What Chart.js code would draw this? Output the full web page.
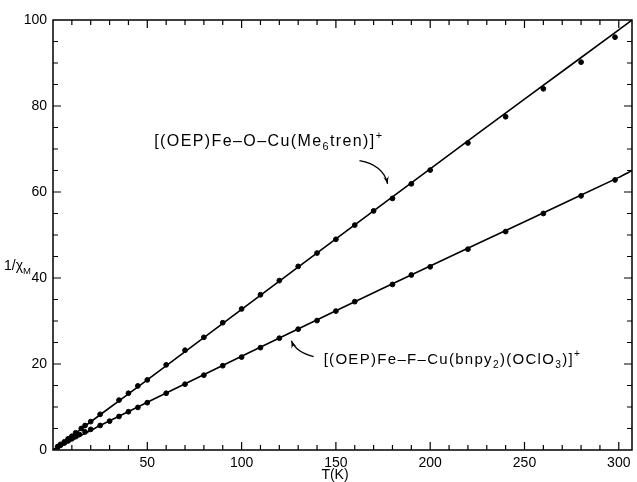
<!DOCTYPE html>
<html lang="en">
<head>
    <meta charset="UTF-8">
    <title>1/chi_M vs T</title>
    <script src="https://cdn.jsdelivr.net/npm/chart.js"></script>
    <style>
        body, html {
            margin: 0;
            padding: 0;
            background: #fff;
            overflow: hidden;
        }
        #wrap { width: 637px; height: 482px; position: relative; }
    </style>
</head>
<body>
    <div id="wrap"><canvas id="chiChart"></canvas></div>

    <script>
        // [(OEP)Fe-O-Cu(Me6tren)]+ : measured points
        const feoT = [2.5, 4, 6, 8, 10, 12, 15, 17, 20, 25, 35, 40, 45, 50, 60, 70, 80, 90, 100, 110, 120, 130, 140, 150, 160, 170, 180, 190, 200, 220, 240, 260, 280, 298];
        const feoV = [0.8, 1.3, 1.9, 2.6, 3.2, 4.0, 5.0, 5.7, 6.6, 8.3, 11.6, 13.2, 14.9, 16.3, 19.8, 23.2, 26.2, 29.6, 32.8, 36.1, 39.4, 42.7, 45.8, 49.0, 52.3, 55.6, 58.5, 61.9, 65.1, 71.4, 77.5, 84.0, 90.2, 96.0];
        // fitted line through them
        const feoFitT = [0, 25, 50, 100, 150, 200, 250, 300, 307];
        const feoFitV = [0, 8.2, 16.3, 32.7, 49.1, 65.4, 81.6, 97.7, 100];

        // [(OEP)Fe-F-Cu(bnpy2)(OClO3)]+
        const fefT = [2.5, 4, 6, 8, 10, 12, 14, 17, 20, 25, 30, 35, 40, 45, 50, 60, 70, 80, 90, 100, 110, 120, 130, 140, 150, 160, 180, 190, 200, 220, 240, 260, 280, 298];
        const fefV = [0.7, 1.1, 1.6, 2.1, 2.6, 3.1, 3.6, 4.2, 4.8, 5.7, 6.7, 7.8, 8.9, 9.9, 11.0, 13.2, 15.3, 17.4, 19.6, 21.6, 23.8, 26.0, 28.1, 30.1, 32.3, 34.5, 38.5, 40.7, 42.6, 46.7, 50.8, 55.0, 59.1, 62.8];
        const fefFitT = [0, 25, 50, 100, 150, 200, 250, 300, 307];
        const fefFitV = [0, 5.7, 11.1, 21.8, 32.4, 42.8, 53.1, 63.4, 65.0];

        const xTickLabels = [50, 100, 150, 200, 250, 300];
        const yTickLabels = [0, 20, 40, 60, 80, 100];

        const pts = (xs, ys) => xs.map((x, i) => ({ x: x, y: ys[i] }));
        const FONT = '"Liberation Sans", Arial, sans-serif';
        const INK = '#000';

        // draw text made of plain / sub / sup pieces
        function drawRich(ctx, x, y, parts, size, spacing) {
            ctx.save();
            ctx.fillStyle = INK;
            ctx.textBaseline = 'alphabetic';
            ctx.textAlign = 'left';
            ctx.letterSpacing = spacing + 'px';
            parts.forEach(p => {
                const s = p[1] ? size * 0.68 : size;
                const dy = p[1] === 'sub' ? size * 0.25 : (p[1] === 'sup' ? -size * 0.45 : 0);
                ctx.font = s + 'px ' + FONT;
                ctx.fillText(p[0], x, y + dy);
                x += ctx.measureText(p[0]).width;
            });
            ctx.restore();
        }

        function arrow(ctx, sx, sy, cx, cy, ex, ey) {
            ctx.save();
            ctx.strokeStyle = INK;
            ctx.fillStyle = INK;
            ctx.lineWidth = 1.3;
            ctx.beginPath();
            ctx.moveTo(sx, sy);
            ctx.quadraticCurveTo(cx, cy, ex, ey);
            ctx.stroke();
            const a = Math.atan2(ey - cy, ex - cx);
            const L = 8, W = 0.35;
            ctx.beginPath();
            ctx.moveTo(ex, ey);
            ctx.lineTo(ex - L * Math.cos(a - W), ey - L * Math.sin(a - W));
            ctx.lineTo(ex - L * 0.6 * Math.cos(a), ey - L * 0.6 * Math.sin(a));
            ctx.lineTo(ex - L * Math.cos(a + W), ey - L * Math.sin(a + W));
            ctx.closePath();
            ctx.fill();
            ctx.restore();
        }

        const framePlugin = {
            id: 'frame',
            afterDraw(chart) {
                const ctx = chart.ctx;
                const xs = chart.scales.x, ys = chart.scales.y;
                const a = chart.chartArea;
                ctx.save();
                ctx.strokeStyle = INK;
                ctx.lineWidth = 1.5;
                ctx.strokeRect(a.left, a.top, a.right - a.left, a.bottom - a.top);
                ctx.lineWidth = 1.2;
                ctx.beginPath();
                for (let t = 10; t <= 300; t += 10) {
                    const px = xs.getPixelForValue(t);
                    const len = t % 50 === 0 ? 8 : 5;
                    ctx.moveTo(px, a.bottom); ctx.lineTo(px, a.bottom - len);
                    ctx.moveTo(px, a.top); ctx.lineTo(px, a.top + len);
                }
                for (let v = 5; v < 100; v += 5) {
                    const py = ys.getPixelForValue(v);
                    const len = v % 20 === 0 ? 8 : 5;
                    ctx.moveTo(a.left, py); ctx.lineTo(a.left + len, py);
                    ctx.moveTo(a.right, py); ctx.lineTo(a.right - len, py);
                }
                ctx.stroke();
                ctx.restore();

                const X = v => xs.getPixelForValue(v), Y = v => ys.getPixelForValue(v);

                // axis titles
                drawRich(ctx, 4, 270, [['1/\u03c7', ''], ['M', 'sub']], 14, 0);
                ctx.save();
                ctx.fillStyle = INK;
                ctx.font = '14px ' + FONT;
                ctx.textAlign = 'center';
                ctx.textBaseline = 'middle';
                ctx.fillText('T(K)', 335, 475);
                ctx.restore();

                // curve labels
                drawRich(ctx, X(53.7), Y(70.7),
                    [['[(OEP)Fe\u2013O\u2013Cu(Me', ''], ['6', 'sub'], ['tren)]', ''], ['+', 'sup']], 16, 1.4);
                drawRich(ctx, X(143.5), Y(20.0),
                    [['[(OEP)Fe\u2013F\u2013Cu(bnpy', ''], ['2', 'sub'], [')(OClO', ''], ['3', 'sub'], [')]', ''], ['+', 'sup']], 15, 1.3);

                arrow(ctx, X(162.5), Y(67.3), X(175.2), Y(66.3), X(177.4), Y(61.9));
                arrow(ctx, X(138.2), Y(21.7), X(128.7), Y(22.8), X(126.4), Y(25.4));
            }
        };

        const ctx = document.getElementById('chiChart').getContext('2d');
        new Chart(ctx, {
            type: 'scatter',
            data: {
                datasets: [
                    {
                        label: 'Fe-O-Cu fit',
                        type: 'line',
                        data: pts(feoFitT, feoFitV),
                        borderColor: INK,
                        borderWidth: 1.6,
                        pointRadius: 0,
                        tension: 0.3,
                        fill: false
                    },
                    {
                        label: 'Fe-F-Cu fit',
                        type: 'line',
                        data: pts(fefFitT, fefFitV),
                        borderColor: INK,
                        borderWidth: 1.6,
                        pointRadius: 0,
                        tension: 0.3,
                        fill: false
                    },
                    {
                        label: 'Fe-O-Cu',
                        data: pts(feoT, feoV),
                        backgroundColor: INK,
                        borderColor: INK,
                        pointRadius: 2.4
                    },
                    {
                        label: 'Fe-F-Cu',
                        data: pts(fefT, fefV),
                        backgroundColor: INK,
                        borderColor: INK,
                        pointRadius: 2.4
                    }
                ]
            },
            options: {
                responsive: true,
                maintainAspectRatio: false,
                animation: false,
                layout: { padding: { top: 20, right: 3, left: 0, bottom: 0 } },
                scales: {
                    x: {
                        type: 'linear',
                        min: 0,
                        max: 307,
                        afterBuildTicks: s => { s.ticks = xTickLabels.map(v => ({ value: v })); },
                        afterFit: s => { s.height = 32; },
                        grid: { display: false, drawTicks: false },
                        border: { display: false },
                        ticks: { color: INK, padding: 5, maxRotation: 0, autoSkip: false, font: { family: FONT, size: 14 } }
                    },
                    y: {
                        min: 0,
                        max: 100,
                        afterBuildTicks: s => { s.ticks = yTickLabels.map(v => ({ value: v })); },
                        afterFit: s => { s.width = 53; },
                        grid: { display: false, drawTicks: false },
                        border: { display: false },
                        ticks: { color: INK, padding: 6, font: { family: FONT, size: 14 } }
                    }
                },
                plugins: {
                    legend: { display: false },
                    tooltip: { enabled: false }
                }
            },
            plugins: [framePlugin]
        });
    </script>
</body>
</html>
